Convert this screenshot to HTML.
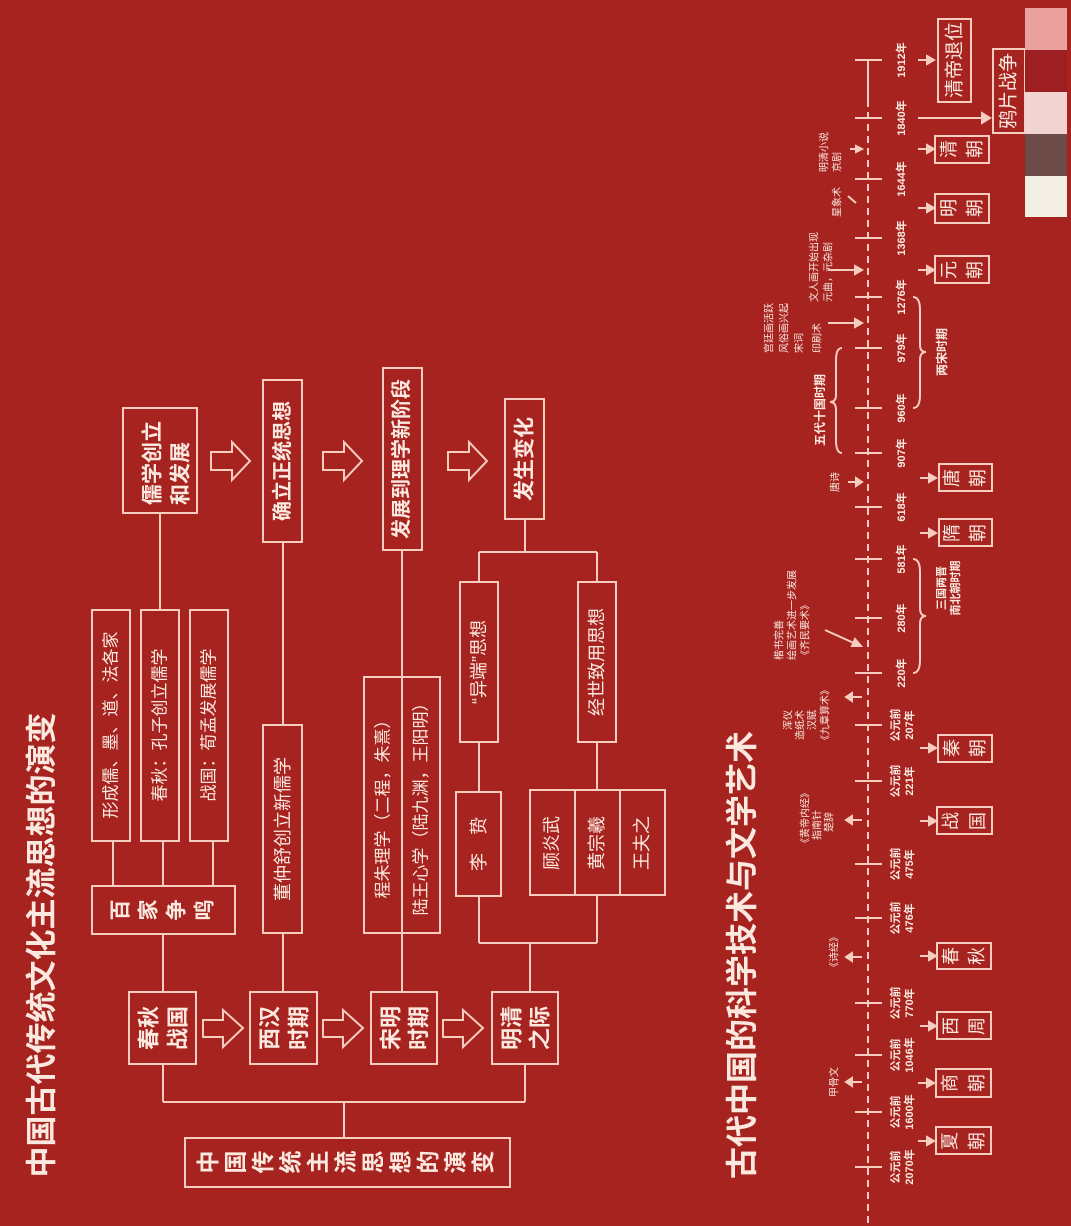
<!DOCTYPE html>
<html><head><meta charset="utf-8"><style>
html,body{margin:0;padding:0;background:#a6231f;}
svg{display:block;}
text{font-family:"Liberation Sans","Noto Sans CJK SC",sans-serif;fill:#fbe9e0;}
.b{font-weight:bold;}
</style></head><body>
<svg width="1071" height="1226" viewBox="0 0 1071 1226" xmlns="http://www.w3.org/2000/svg">
<rect width="1071" height="1226" fill="#a6231f"/>
<defs>
<style>.ln{stroke:#f6cdbf;stroke-width:2;fill:none}.bx{stroke:#f6cdbf;stroke-width:2;fill:none}</style>
</defs>

<!-- Titles -->
<text class="b" transform="translate(42,945) rotate(-90)" text-anchor="middle" dominant-baseline="central" font-size="31">中国古代传统文化主流思想的演变</text>
<text class="b" transform="translate(742,955) rotate(-90)" text-anchor="middle" dominant-baseline="central" font-size="32">古代中国的科学技术与文学艺术</text>

<!-- Flowchart boxes -->
<rect class="bx" x="123" y="408" width="74" height="105"/>
<text class="b" transform="translate(153,505) rotate(-90)" dominant-baseline="central" font-size="21">儒学创立</text>
<text class="b" transform="translate(181,505) rotate(-90)" dominant-baseline="central" font-size="21">和发展</text>

<rect class="bx" x="263" y="380" width="39" height="162"/>
<text class="b" transform="translate(283,461) rotate(-90)" text-anchor="middle" dominant-baseline="central" font-size="20">确立正统思想</text>

<rect class="bx" x="383" y="368" width="39" height="182"/>
<text class="b" transform="translate(402,459) rotate(-90)" text-anchor="middle" dominant-baseline="central" font-size="20">发展到理学新阶段</text>

<rect class="bx" x="505" y="399" width="39" height="120"/>
<text class="b" transform="translate(525,459) rotate(-90)" text-anchor="middle" dominant-baseline="central" font-size="21">发生变化</text>

<!-- hollow arrows top row -->
<path class="ln" d="M211,452 H232 V442 L250,461 L232,480 V470 H211 Z"/>
<path class="ln" d="M323,452 H344 V442 L362,461 L344,480 V470 H323 Z"/>
<path class="ln" d="M448,452 H469 V442 L487,461 L469,480 V470 H448 Z"/>

<!-- children of 儒学 -->
<line class="ln" x1="160" y1="513" x2="160" y2="610"/>
<rect class="bx" x="92" y="610" width="38" height="231"/>
<text transform="translate(111,725) rotate(-90)" text-anchor="middle" dominant-baseline="central" font-size="17">形成儒、墨、道、法各家</text>
<rect class="bx" x="141" y="610" width="38" height="231"/>
<text transform="translate(160,725) rotate(-90)" text-anchor="middle" dominant-baseline="central" font-size="17">春秋：孔子创立儒学</text>
<rect class="bx" x="190" y="610" width="38" height="231"/>
<text transform="translate(209,725) rotate(-90)" text-anchor="middle" dominant-baseline="central" font-size="17">战国：荀孟发展儒学</text>
<line class="ln" x1="113" y1="841" x2="113" y2="886"/>
<line class="ln" x1="163" y1="841" x2="163" y2="886"/>
<line class="ln" x1="213" y1="841" x2="213" y2="886"/>
<rect class="bx" x="92" y="886" width="143" height="48"/>
<g class="b" font-size="21" text-anchor="middle" dominant-baseline="central">
<text transform="translate(121,910) rotate(-90)">百</text>
<text transform="translate(149,910) rotate(-90)">家</text>
<text transform="translate(177,910) rotate(-90)">争</text>
<text transform="translate(205,910) rotate(-90)">鸣</text>
</g>
<line class="ln" x1="163" y1="934" x2="163" y2="992"/>

<!-- 董仲舒 -->
<line class="ln" x1="283" y1="542" x2="283" y2="725"/>
<rect class="bx" x="263" y="725" width="39" height="208"/>
<text transform="translate(283,829) rotate(-90)" text-anchor="middle" dominant-baseline="central" font-size="18">董仲舒创立新儒学</text>
<line class="ln" x1="283" y1="933" x2="283" y2="992"/>

<!-- 理学 double box -->
<line class="ln" x1="402" y1="550" x2="402" y2="992"/>
<rect class="bx" x="364" y="677" width="76" height="256"/>
<text transform="translate(383,805) rotate(-90)" text-anchor="middle" dominant-baseline="central" font-size="17">程朱理学（二程，朱熹）</text>
<text transform="translate(421,805) rotate(-90)" text-anchor="middle" dominant-baseline="central" font-size="17">陆王心学（陆九渊，王阳明）</text>

<!-- 发生变化 branch -->
<line class="ln" x1="525" y1="519" x2="525" y2="552"/>
<line class="ln" x1="479" y1="552" x2="597" y2="552"/>
<line class="ln" x1="479" y1="552" x2="479" y2="582"/>
<line class="ln" x1="597" y1="552" x2="597" y2="582"/>
<rect class="bx" x="460" y="582" width="38" height="160"/>
<text transform="translate(479,662) rotate(-90)" text-anchor="middle" dominant-baseline="central" font-size="18">“异端”思想</text>
<rect class="bx" x="578" y="582" width="38" height="160"/>
<text transform="translate(597,662) rotate(-90)" text-anchor="middle" dominant-baseline="central" font-size="18">经世致用思想</text>
<line class="ln" x1="479" y1="742" x2="479" y2="792"/>
<line class="ln" x1="597" y1="742" x2="597" y2="790"/>
<rect class="bx" x="456" y="792" width="45" height="104"/>
<text transform="translate(479,844) rotate(-90)" text-anchor="middle" dominant-baseline="central" font-size="18">李　贽</text>
<rect class="bx" x="530" y="790" width="135" height="105"/>
<line class="ln" x1="575" y1="790" x2="575" y2="895"/>
<line class="ln" x1="620" y1="790" x2="620" y2="895"/>
<text transform="translate(552,843) rotate(-90)" text-anchor="middle" dominant-baseline="central" font-size="18">顾炎武</text>
<text transform="translate(597,843) rotate(-90)" text-anchor="middle" dominant-baseline="central" font-size="18">黄宗羲</text>
<text transform="translate(642,843) rotate(-90)" text-anchor="middle" dominant-baseline="central" font-size="18">王夫之</text>
<line class="ln" x1="479" y1="896" x2="479" y2="943"/>
<line class="ln" x1="597" y1="895" x2="597" y2="943"/>
<line class="ln" x1="479" y1="943" x2="597" y2="943"/>
<line class="ln" x1="530" y1="943" x2="530" y2="992"/>

<!-- period boxes -->
<rect class="bx" x="129" y="992" width="67" height="72"/>
<text class="b" transform="translate(149,1028) rotate(-90)" text-anchor="middle" dominant-baseline="central" font-size="22">春秋</text>
<text class="b" transform="translate(178,1028) rotate(-90)" text-anchor="middle" dominant-baseline="central" font-size="22">战国</text>
<rect class="bx" x="250" y="992" width="67" height="72"/>
<text class="b" transform="translate(270,1028) rotate(-90)" text-anchor="middle" dominant-baseline="central" font-size="22">西汉</text>
<text class="b" transform="translate(299,1028) rotate(-90)" text-anchor="middle" dominant-baseline="central" font-size="22">时期</text>
<rect class="bx" x="371" y="992" width="66" height="72"/>
<text class="b" transform="translate(391,1028) rotate(-90)" text-anchor="middle" dominant-baseline="central" font-size="22">宋明</text>
<text class="b" transform="translate(419,1028) rotate(-90)" text-anchor="middle" dominant-baseline="central" font-size="22">时期</text>
<rect class="bx" x="492" y="992" width="66" height="72"/>
<text class="b" transform="translate(512,1028) rotate(-90)" text-anchor="middle" dominant-baseline="central" font-size="22">明清</text>
<text class="b" transform="translate(540,1028) rotate(-90)" text-anchor="middle" dominant-baseline="central" font-size="22">之际</text>
<path class="ln" d="M203,1020 H223 V1010 L243,1028 L223,1047 V1037 H203 Z"/>
<path class="ln" d="M323,1020 H343 V1010 L363,1028 L343,1047 V1037 H323 Z"/>
<path class="ln" d="M443,1020 H463 V1010 L483,1028 L463,1047 V1037 H443 Z"/>

<line class="ln" x1="163" y1="1064" x2="163" y2="1102"/>
<line class="ln" x1="525" y1="1064" x2="525" y2="1102"/>
<line class="ln" x1="163" y1="1102" x2="525" y2="1102"/>
<line class="ln" x1="344" y1="1102" x2="344" y2="1138"/>
<rect class="bx" x="185" y="1138" width="325" height="49"/>
<g class="b" font-size="23" text-anchor="middle" dominant-baseline="central">
<text transform="translate(208,1162) rotate(-90)">中</text>
<text transform="translate(235.5,1162) rotate(-90)">国</text>
<text transform="translate(263,1162) rotate(-90)">传</text>
<text transform="translate(290.5,1162) rotate(-90)">统</text>
<text transform="translate(318,1162) rotate(-90)">主</text>
<text transform="translate(345.5,1162) rotate(-90)">流</text>
<text transform="translate(373,1162) rotate(-90)">思</text>
<text transform="translate(400.5,1162) rotate(-90)">想</text>
<text transform="translate(428,1162) rotate(-90)">的</text>
<text transform="translate(455.5,1162) rotate(-90)">演</text>
<text transform="translate(483,1162) rotate(-90)">变</text>
</g>

<!-- Timeline axis -->
<line x1="868" y1="60" x2="868" y2="100" stroke="#f6cdbf" stroke-width="2"/>
<line x1="868" y1="100" x2="868" y2="1226" stroke="#f6cdbf" stroke-width="2" stroke-dasharray="7,5"/>
<g stroke="#f6cdbf" stroke-width="2">
<line x1="855" y1="60" x2="882" y2="60"/><line x1="855" y1="118" x2="882" y2="118"/>
<line x1="855" y1="179" x2="882" y2="179"/><line x1="855" y1="238" x2="882" y2="238"/>
<line x1="855" y1="297" x2="882" y2="297"/><line x1="855" y1="348" x2="882" y2="348"/>
<line x1="855" y1="408" x2="882" y2="408"/><line x1="855" y1="453" x2="882" y2="453"/>
<line x1="855" y1="507" x2="882" y2="507"/><line x1="855" y1="559" x2="882" y2="559"/>
<line x1="855" y1="618" x2="882" y2="618"/><line x1="855" y1="673" x2="882" y2="673"/>
<line x1="855" y1="725" x2="882" y2="725"/><line x1="855" y1="781" x2="882" y2="781"/>
<line x1="855" y1="864" x2="882" y2="864"/><line x1="855" y1="918" x2="882" y2="918"/>
<line x1="855" y1="1003" x2="882" y2="1003"/><line x1="855" y1="1055" x2="882" y2="1055"/>
<line x1="855" y1="1112" x2="882" y2="1112"/><line x1="855" y1="1167" x2="882" y2="1167"/>
</g>

<!-- year labels -->
<g class="b" font-size="11" text-anchor="middle" dominant-baseline="central">
<text transform="translate(902,60) rotate(-90)">1912年</text>
<text transform="translate(902,118) rotate(-90)">1840年</text>
<text transform="translate(902,179) rotate(-90)">1644年</text>
<text transform="translate(902,238) rotate(-90)">1368年</text>
<text transform="translate(902,297) rotate(-90)">1276年</text>
<text transform="translate(902,348) rotate(-90)">979年</text>
<text transform="translate(902,408) rotate(-90)">960年</text>
<text transform="translate(902,453) rotate(-90)">907年</text>
<text transform="translate(902,507) rotate(-90)">618年</text>
<text transform="translate(902,559) rotate(-90)">581年</text>
<text transform="translate(902,618) rotate(-90)">280年</text>
<text transform="translate(902,673) rotate(-90)">220年</text>
<text transform="translate(896,725) rotate(-90)">公元前</text><text transform="translate(910,725) rotate(-90)">207年</text>
<text transform="translate(896,781) rotate(-90)">公元前</text><text transform="translate(910,781) rotate(-90)">221年</text>
<text transform="translate(896,864) rotate(-90)">公元前</text><text transform="translate(910,864) rotate(-90)">475年</text>
<text transform="translate(896,918) rotate(-90)">公元前</text><text transform="translate(910,918) rotate(-90)">476年</text>
<text transform="translate(896,1003) rotate(-90)">公元前</text><text transform="translate(910,1003) rotate(-90)">770年</text>
<text transform="translate(896,1055) rotate(-90)">公元前</text><text transform="translate(910,1055) rotate(-90)">1046年</text>
<text transform="translate(896,1112) rotate(-90)">公元前</text><text transform="translate(910,1112) rotate(-90)">1600年</text>
<text transform="translate(896,1167) rotate(-90)">公元前</text><text transform="translate(910,1167) rotate(-90)">2070年</text>
</g>

<!-- right arrows -->
<g stroke="#f6cdbf" stroke-width="2" fill="#f6cdbf">
<line x1="918" y1="60" x2="930" y2="60"/><path d="M934,60 L927,56 L927,64 Z"/>
<line x1="918" y1="118" x2="985" y2="118"/><path d="M990,118 L982,113 L982,123 Z"/>
<line x1="918" y1="149" x2="930" y2="149"/><path d="M934,149 L927,145 L927,153 Z"/>
<line x1="918" y1="208" x2="930" y2="208"/><path d="M934,208 L927,204 L927,212 Z"/>
<line x1="918" y1="270" x2="930" y2="270"/><path d="M934,270 L927,266 L927,274 Z"/>
<line x1="920" y1="478" x2="932" y2="478"/><path d="M936,478 L929,474 L929,482 Z"/>
<line x1="920" y1="533" x2="932" y2="533"/><path d="M936,533 L929,529 L929,537 Z"/>
<line x1="920" y1="748" x2="932" y2="748"/><path d="M936,748 L929,744 L929,752 Z"/>
<line x1="920" y1="821" x2="932" y2="821"/><path d="M936,821 L929,817 L929,825 Z"/>
<line x1="920" y1="956" x2="932" y2="956"/><path d="M936,956 L929,952 L929,960 Z"/>
<line x1="920" y1="1026" x2="932" y2="1026"/><path d="M936,1026 L929,1022 L929,1030 Z"/>
<line x1="918" y1="1083" x2="930" y2="1083"/><path d="M934,1083 L927,1079 L927,1087 Z"/>
<line x1="918" y1="1141" x2="930" y2="1141"/><path d="M934,1141 L927,1137 L927,1145 Z"/>
</g>

<!-- dynasty boxes -->
<rect class="bx" x="938" y="19" width="33" height="83"/>
<text transform="translate(955,60) rotate(-90)" text-anchor="middle" dominant-baseline="central" font-size="19">清帝退位</text>
<rect class="bx" x="993" y="49" width="32" height="84"/>
<text transform="translate(1009,91) rotate(-90)" text-anchor="middle" dominant-baseline="central" font-size="19">鸦片战争</text>
<g font-size="18" text-anchor="middle" dominant-baseline="central">
<rect class="bx" x="935" y="136" width="54" height="27"/><text transform="translate(949,149) rotate(-90)">清</text><text transform="translate(975,149) rotate(-90)">朝</text>
<rect class="bx" x="935" y="194" width="54" height="29"/><text transform="translate(949,208) rotate(-90)">明</text><text transform="translate(975,208) rotate(-90)">朝</text>
<rect class="bx" x="935" y="256" width="54" height="27"/><text transform="translate(949,270) rotate(-90)">元</text><text transform="translate(975,270) rotate(-90)">朝</text>
<rect class="bx" x="939" y="464" width="53" height="27"/><text transform="translate(952,478) rotate(-90)">唐</text><text transform="translate(978,478) rotate(-90)">朝</text>
<rect class="bx" x="939" y="519" width="53" height="27"/><text transform="translate(952,533) rotate(-90)">隋</text><text transform="translate(978,533) rotate(-90)">朝</text>
<rect class="bx" x="938" y="735" width="54" height="27"/><text transform="translate(952,748) rotate(-90)">秦</text><text transform="translate(978,748) rotate(-90)">朝</text>
<rect class="bx" x="937" y="807" width="55" height="27"/><text transform="translate(951,821) rotate(-90)">战</text><text transform="translate(978,821) rotate(-90)">国</text>
<rect class="bx" x="937" y="943" width="54" height="26"/><text transform="translate(951,956) rotate(-90)">春</text><text transform="translate(977,956) rotate(-90)">秋</text>
<rect class="bx" x="937" y="1012" width="54" height="27"/><text transform="translate(951,1026) rotate(-90)">西</text><text transform="translate(977,1026) rotate(-90)">周</text>
<rect class="bx" x="936" y="1069" width="55" height="28"/><text transform="translate(950,1083) rotate(-90)">商</text><text transform="translate(977,1083) rotate(-90)">朝</text>
<rect class="bx" x="936" y="1127" width="55" height="27"/><text transform="translate(950,1141) rotate(-90)">夏</text><text transform="translate(977,1141) rotate(-90)">朝</text>
</g>

<!-- periods w/ braces -->
<text class="b" transform="translate(942,352) rotate(-90)" text-anchor="middle" dominant-baseline="central" font-size="12">两宋时期</text>
<path class="ln" d="M913,297 Q920,297 920,310 V345 Q920,352 926,352 Q920,352 920,360 V395 Q920,408 913,408" stroke-width="1.5"/>
<text class="b" transform="translate(820,410) rotate(-90)" text-anchor="middle" dominant-baseline="central" font-size="12">五代十国时期</text>
<path class="ln" d="M842,348 Q836,348 836,360 V395 Q836,402 830,402 Q836,402 836,410 V440 Q836,453 842,453" stroke-width="1.5"/>
<text class="b" transform="translate(942,588) rotate(-90)" text-anchor="middle" dominant-baseline="central" font-size="11">三国两晋</text>
<text class="b" transform="translate(956,588) rotate(-90)" text-anchor="middle" dominant-baseline="central" font-size="11">南北朝时期</text>
<path class="ln" d="M913,559 Q920,559 920,572 V608 Q920,616 926,616 Q920,616 920,624 V660 Q920,673 913,673" stroke-width="1.5"/>

<!-- left annotations -->
<g font-size="10" dominant-baseline="central">
<text transform="translate(825,172) rotate(-90)">明清小说</text>
<text transform="translate(838,172) rotate(-90)">京剧</text>
<text transform="translate(838,217) rotate(-90)">星象术</text>
<text transform="translate(815,302) rotate(-90)">文人画开始出现</text>
<text transform="translate(829,302) rotate(-90)">元曲，元杂剧</text>
<text transform="translate(770,353) rotate(-90)">宫廷画活跃</text>
<text transform="translate(785,353) rotate(-90)">风俗画兴起</text>
<text transform="translate(800,353) rotate(-90)">宋词</text>
<text transform="translate(818,353) rotate(-90)">印刷术</text>
<text transform="translate(836,492) rotate(-90)">唐诗</text>
<text transform="translate(780,660) rotate(-90)">楷书完善</text>
<text transform="translate(793,660) rotate(-90)">绘画艺术进一步发展</text>
<text transform="translate(806,660) rotate(-90)">《齐民要术》</text>
<text transform="translate(789,730) rotate(-90)">浑仪</text>
<text transform="translate(801,740) rotate(-90)">造纸术</text>
<text transform="translate(813,730) rotate(-90)">汉赋</text>
<text transform="translate(826,745) rotate(-90)">《九章算术》</text>
<text transform="translate(806,848) rotate(-90)">《黄帝内经》</text>
<text transform="translate(818,840) rotate(-90)">指南针</text>
<text transform="translate(830,832) rotate(-90)">楚辞</text>
<text transform="translate(835,972) rotate(-90)">《诗经》</text>
<text transform="translate(835,1097) rotate(-90)">甲骨文</text>
</g>
<g stroke="#f6cdbf" stroke-width="2" fill="#f6cdbf">
<line x1="850" y1="149" x2="858" y2="149"/><path d="M862,149 L856,146 L856,152 Z"/>
<line x1="848" y1="196" x2="856" y2="203"/>
<line x1="828" y1="270" x2="857" y2="270"/><path d="M862,270 L855,266 L855,274 Z"/>
<line x1="828" y1="323" x2="857" y2="323"/><path d="M862,323 L855,319 L855,327 Z"/>
<line x1="848" y1="482" x2="857" y2="482"/><path d="M862,482 L856,478 L856,486 Z"/>
<line x1="825" y1="630" x2="856" y2="644"/><path d="M861,646 L852,646 L855,639 Z"/>
<line x1="851" y1="697" x2="862" y2="697"/><path d="M846,697 L852,693 L852,701 Z"/>
<line x1="851" y1="820" x2="862" y2="820"/><path d="M846,820 L852,816 L852,824 Z"/>
<line x1="851" y1="957" x2="862" y2="957"/><path d="M846,957 L852,953 L852,961 Z"/>
<line x1="851" y1="1082" x2="862" y2="1082"/><path d="M846,1082 L852,1078 L852,1086 Z"/>
</g>

<!-- palette -->
<rect x="1025" y="8" width="42" height="42" fill="#eaa09c"/>
<rect x="1025" y="50" width="42" height="42" fill="#9d1f22"/>
<rect x="1025" y="92" width="42" height="42" fill="#f1d3d1"/>
<rect x="1025" y="134" width="42" height="42" fill="#6c4b49"/>
<rect x="1025" y="176" width="42" height="41" fill="#f4efe4"/>
</svg>
</body></html>
